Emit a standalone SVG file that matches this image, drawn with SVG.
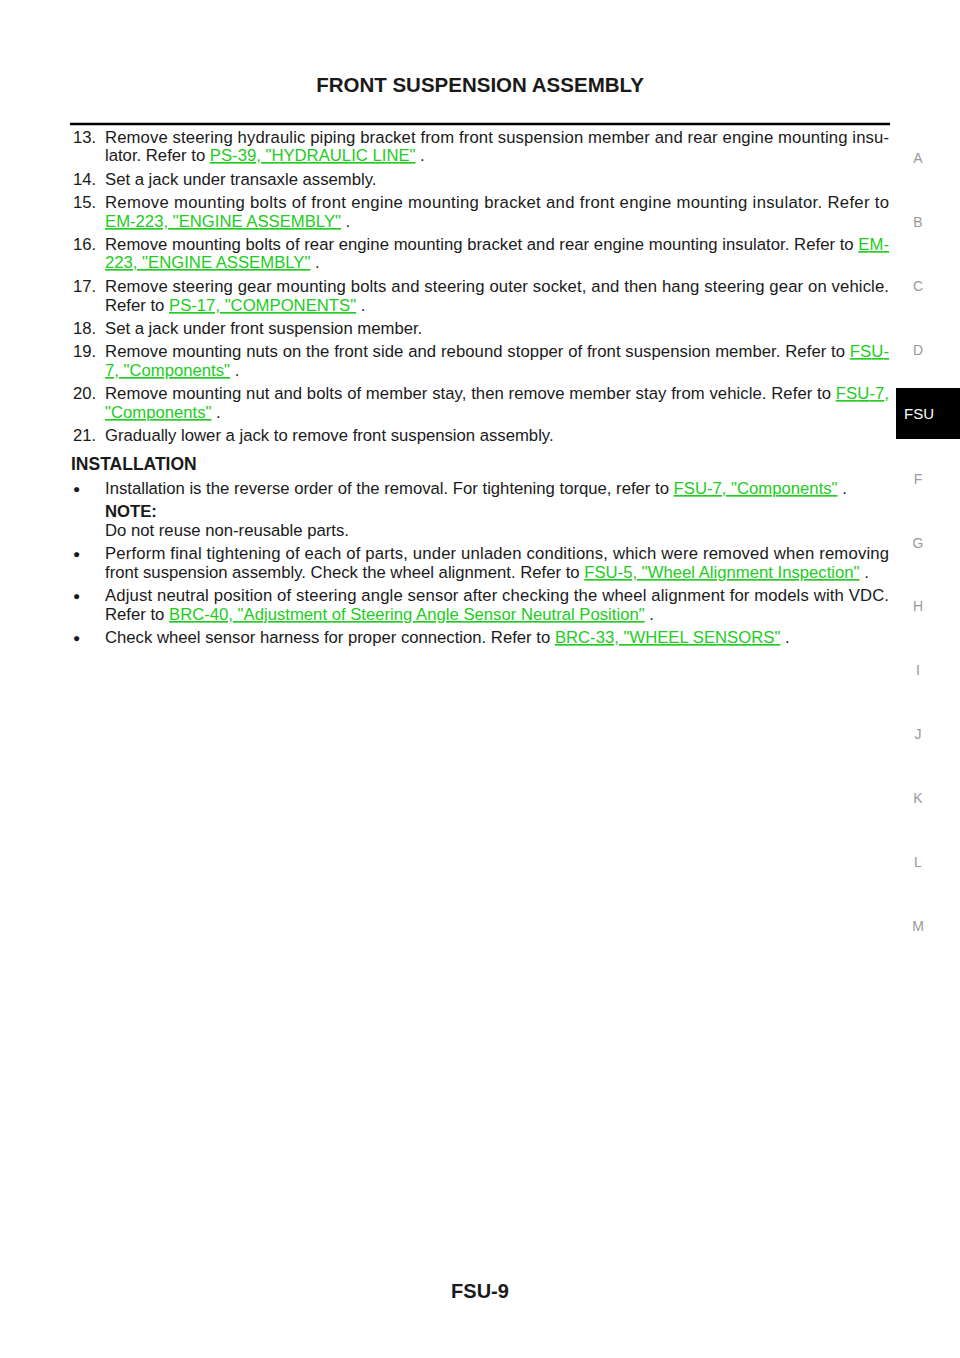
<svg xmlns="http://www.w3.org/2000/svg" width="960" height="1358" viewBox="0 0 960 1358">
<style>
text{font-family:"Liberation Sans",Arial,sans-serif;font-size:16.7px;fill:#1a1a1a}
.l{fill:#22cc22;text-decoration:underline}
.s{fill:#999;font-size:14px;text-anchor:middle}
.b{font-weight:bold}
.d{font-size:12px}
</style>
<rect width="960" height="1358" fill="#fff"/>
<text class="b" x="480" y="92" text-anchor="middle" style="font-size:20.5px">FRONT SUSPENSION ASSEMBLY</text>
<line x1="70" y1="124" x2="890" y2="124" stroke="#000" stroke-width="2.5"/>
<g id="side">
<text class="s" x="918" y="163">A</text><text class="s" x="918" y="227">B</text><text class="s" x="918" y="291">C</text><text class="s" x="918" y="355">D</text>
<rect x="896" y="388" width="64" height="51" fill="#000"/>
<text class="s" x="919" y="419" style="fill:#fff;font-size:15px">FSU</text>
<text class="s" x="918" y="484">F</text><text class="s" x="918" y="548">G</text><text class="s" x="918" y="611">H</text><text class="s" x="918" y="675">I</text><text class="s" x="918" y="739">J</text><text class="s" x="918" y="803">K</text><text class="s" x="918" y="867">L</text><text class="s" x="918" y="931">M</text>
</g>
<g id="steps">
<text x="73" y="143">13.</text><text x="105" y="143" textLength="784">Remove steering hydraulic piping bracket from front suspension member and rear engine mounting insu-</text>
<text x="105" y="161">lator. Refer to <tspan class="l">PS-39, "HYDRAULIC LINE"</tspan> .</text>
<text x="73" y="185">14.</text><text x="105" y="185">Set a jack under transaxle assembly.</text>
<text x="73" y="208">15.</text><text x="105" y="208" textLength="784">Remove mounting bolts of front engine mounting bracket and front engine mounting insulator. Refer to</text>
<text x="105" y="227"><tspan class="l">EM-223, "ENGINE ASSEMBLY"</tspan> .</text>
<text x="73" y="250">16.</text><text x="105" y="250" textLength="784">Remove mounting bolts of rear engine mounting bracket and rear engine mounting insulator. Refer to <tspan class="l">EM-</tspan></text>
<text x="105" y="268"><tspan class="l">223, "ENGINE ASSEMBLY"</tspan> .</text>
<text x="73" y="292">17.</text><text x="105" y="292" textLength="784">Remove steering gear mounting bolts and steering outer socket, and then hang steering gear on vehicle.</text>
<text x="105" y="311">Refer to <tspan class="l">PS-17, "COMPONENTS"</tspan> .</text>
<text x="73" y="334">18.</text><text x="105" y="334">Set a jack under front suspension member.</text>
<text x="73" y="357">19.</text><text x="105" y="357" textLength="784">Remove mounting nuts on the front side and rebound stopper of front suspension member. Refer to <tspan class="l">FSU-</tspan></text>
<text x="105" y="376"><tspan class="l">7, "Components"</tspan> .</text>
<text x="73" y="399">20.</text><text x="105" y="399" textLength="784">Remove mounting nut and bolts of member stay, then remove member stay from vehicle. Refer to <tspan class="l">FSU-7,</tspan></text>
<text x="105" y="418"><tspan class="l">"Components"</tspan> .</text>
<text x="73" y="441">21.</text><text x="105" y="441">Gradually lower a jack to remove front suspension assembly.</text>
</g>
<g id="install">
<text class="b" x="71" y="470" style="font-size:17.5px">INSTALLATION</text>
<text class="d" x="73" y="493">●</text><text x="105" y="494">Installation is the reverse order of the removal. For tightening torque, refer to <tspan class="l">FSU-7, "Components"</tspan> .</text>
<text class="b" x="105" y="517">NOTE:</text>
<text x="105" y="536">Do not reuse non-reusable parts.</text>
<text class="d" x="73" y="558">●</text><text x="105" y="559" textLength="784">Perform final tightening of each of parts, under unladen conditions, which were removed when removing</text>
<text x="105" y="578">front suspension assembly. Check the wheel alignment. Refer to <tspan class="l">FSU-5, "Wheel Alignment Inspection"</tspan> .</text>
<text class="d" x="73" y="600">●</text><text x="105" y="601" textLength="784">Adjust neutral position of steering angle sensor after checking the wheel alignment for models with VDC.</text>
<text x="105" y="620">Refer to <tspan class="l">BRC-40, "Adjustment of Steering Angle Sensor Neutral Position"</tspan> .</text>
<text class="d" x="73" y="642">●</text><text x="105" y="643">Check wheel sensor harness for proper connection. Refer to <tspan class="l">BRC-33, "WHEEL SENSORS"</tspan> .</text>
</g>
<text class="b" x="480" y="1298" text-anchor="middle" style="font-size:20px">FSU-9</text>
</svg>
